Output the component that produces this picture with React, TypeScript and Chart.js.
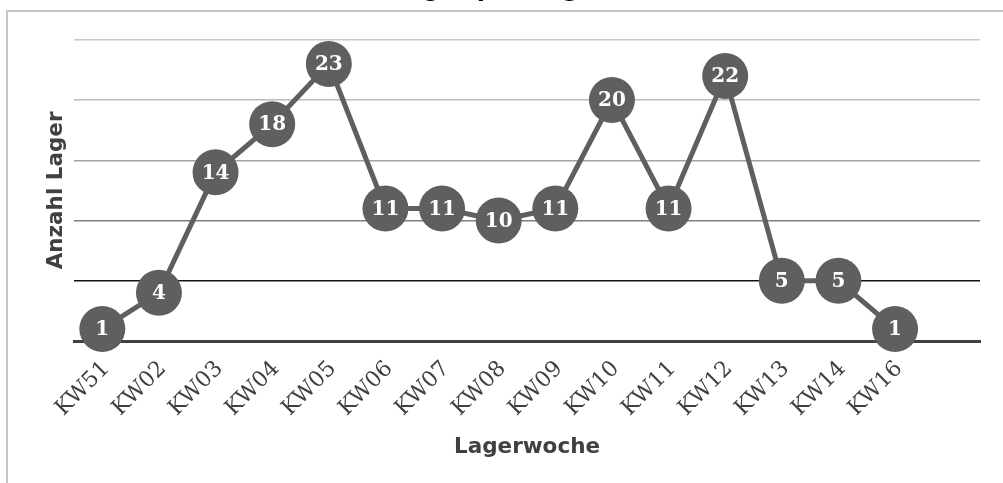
import { useEffect, useRef } from 'react';
import { Chart, registerables } from 'chart.js';

Chart.register(...registerables);

// ---- data ----
const weeks: string[] = ['KW51', 'KW02', 'KW03', 'KW04', 'KW05', 'KW06', 'KW07', 'KW08', 'KW09', 'KW10', 'KW11', 'KW12', 'KW13', 'KW14', 'KW16', ''];
const counts: (number | null)[] = [1, 4, 14, 18, 23, 11, 11, 10, 11, 20, 11, 22, 5, 5, 1, null];
const yMin = 0;
const yMax = 25;
const yStep = 5;
const chartTitle = 'Anzahl Lager pro Lagerwoche';
const xTitle = 'Lagerwoche';
const yTitle = 'Anzahl Lager';

// ---- styles ----
const SHIFT = 32;
const W = 1003;
const H = 483 + SHIFT;
const lineGrey = '#5f5f5f';
const textGrey = '#404040';
const gridColorFor = (v: number): string => {
  if (v === 0) return 'rgba(0,0,0,0)';
  if (v === 5) return '#111111';
  if (v === 10) return '#7f7f7f';
  if (v === 15) return '#a3a3a3';
  if (v === 20) return '#bcbcbc';
  return '#c8c8c8';
};

export default function App() {
  const ref = useRef<HTMLCanvasElement>(null);

  useEffect(() => {
    if (!ref.current) return;

    const framePlugin = {
      id: 'frame',
      beforeDraw(chart: any) {
        const ctx = chart.ctx;
        ctx.save();
        ctx.strokeStyle = '#c6c6c6';
        ctx.lineWidth = 2;
        ctx.strokeRect(7, 11 + SHIFT, 1200, 1000);
        ctx.restore();
      },
    };

    const valuePlugin = {
      id: 'values',
      afterDatasetsDraw(chart: any) {
        const ctx = chart.ctx;
        const meta = chart.getDatasetMeta(0);
        ctx.save();
        ctx.fillStyle = '#ffffff';
        ctx.font = 'bold 20px "DejaVu Serif"';
        ctx.textAlign = 'center';
        ctx.textBaseline = 'middle';
        meta.data.forEach((el: any, i: number) => {
          const v = counts[i];
          if (v == null) return;
          ctx.fillText(String(v), el.x, el.y + 1);
        });
        ctx.restore();
      },
    };

    const chart = new Chart(ref.current, {
      type: 'line',
      data: {
        labels: weeks,
        datasets: [
          {
            data: counts,
            borderColor: lineGrey,
            backgroundColor: lineGrey,
            borderWidth: 5,
            pointRadius: 23,
            pointHoverRadius: 23,
            pointBackgroundColor: lineGrey,
            pointBorderWidth: 0,
            clip: false,
          } as any,
        ],
      },
      options: {
        responsive: false,
        animation: false,
        events: [],
        layout: { padding: { left: 0, right: 17, top: 0, bottom: 0 } },
        plugins: {
          legend: { display: false },
          tooltip: { enabled: false },
          title: {
            display: true,
            text: chartTitle,
            color: '#000000',
            font: { family: 'DejaVu Sans', size: 24, weight: 'bold' },
            padding: { top: 7, bottom: 36 },
          },
        },
        scales: {
          x: {
            offset: true,
            grid: { display: false, drawTicks: false },
            border: { display: true, color: textGrey, width: 3 },
            ticks: {
              autoSkip: false,
              minRotation: 45,
              maxRotation: 45,
              color: textGrey,
              font: { family: 'DejaVu Serif', size: 22 },
              padding: 15,
              labelOffset: 4,
            },
            title: {
              display: true,
              text: xTitle,
              color: textGrey,
              font: { family: 'DejaVu Sans', size: 21.5, weight: 'bold' },
              padding: { top: 0, bottom: 23 },
            },
            afterFit(s: any) {
              s.height = 142;
              s.paddingRight = 0;
              s.paddingLeft = 0;
            },
          },
          y: {
            min: yMin,
            max: yMax,
            ticks: { display: false, stepSize: yStep },
            grid: {
              drawTicks: false,
              lineWidth: 1.5,
              color: (c: any) => gridColorFor(c.tick ? c.tick.value : 0),
            },
            border: { display: false },
            title: {
              display: true,
              text: yTitle,
              color: textGrey,
              font: { family: 'DejaVu Sans', size: 21.5, weight: 'bold' },
              padding: { top: 44, bottom: 0 },
            },
            afterFit(s: any) {
              s.width = 74;
            },
          },
        },
      } as any,
      plugins: [framePlugin, valuePlugin],
    });

    return () => chart.destroy();
  }, []);

  return (
    <div style={{ position: 'fixed', top: -SHIFT, left: 0, width: W, height: H, background: '#ffffff' }}>
      <canvas ref={ref} width={W} height={H} style={{ display: 'block' }} />
    </div>
  );
}
